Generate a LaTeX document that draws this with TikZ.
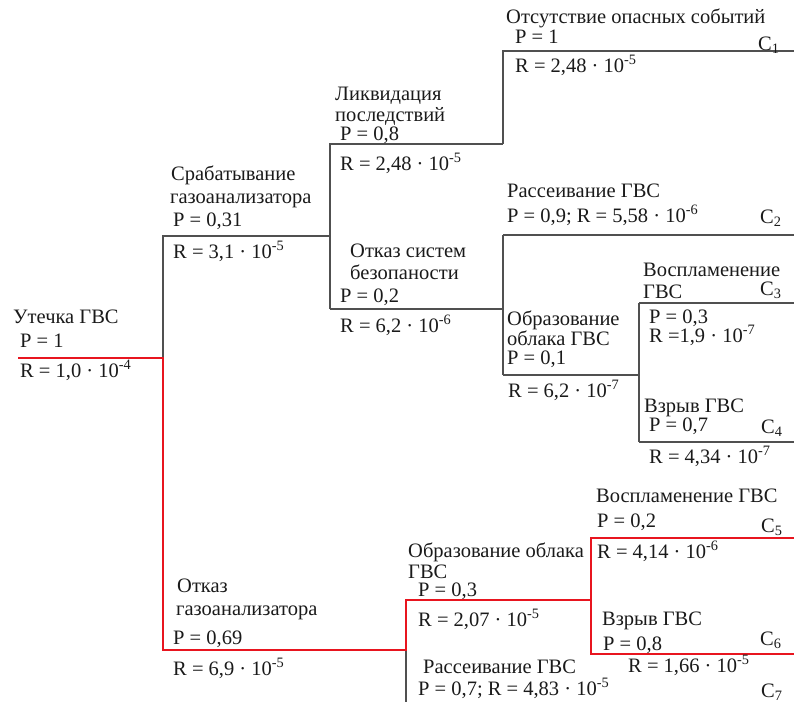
\documentclass[tikz,border=0pt]{standalone}
\usepackage{fontspec}
\setmainfont{Liberation Serif}
\definecolor{redline}{HTML}{E8151F}
\definecolor{greyline}{HTML}{505050}
\definecolor{txt}{HTML}{1A1A1A}
\begin{document}
\begin{tikzpicture}[x=1pt,y=-1pt,
  lbl/.style={anchor=base west,inner sep=0pt,font=\fontsize{20.5}{22}\selectfont,text=txt},
  br/.style={draw=greyline,line width=1.6pt},
  rb/.style={draw=redline,line width=2.2pt}]
\useasboundingbox (0,0) rectangle (794,702);
% junction coordinates
\coordinate (r0) at (18,358);
\coordinate (a) at (163,358);
\coordinate (aT) at (163,236);
\coordinate (aB) at (163,650);
\coordinate (b) at (330,236);
\coordinate (bT) at (330,144);
\coordinate (bB) at (330,309);
\coordinate (c) at (503,144);
\coordinate (cT) at (503,51);
\coordinate (e1) at (794,51);
\coordinate (d) at (503,309);
\coordinate (dT) at (503,235);
\coordinate (dB) at (503,375);
\coordinate (e2) at (794,235);
\coordinate (f) at (639,375);
\coordinate (fT) at (639,303);
\coordinate (fB) at (639,442);
\coordinate (e3) at (794,303);
\coordinate (e4) at (794,442);
\coordinate (g) at (406,650);
\coordinate (gT) at (406,600);
\coordinate (gB) at (406,702);
\coordinate (h) at (591,600);
\coordinate (hT) at (591,538);
\coordinate (hB) at (591,654);
\coordinate (e5) at (794,538);
\coordinate (e6) at (794,654);
% black branches
\draw[br] (a) -- (aT) -- (b);
\draw[br] (bB) -- (bT) -- (c);
\draw[br] (c) -- (cT) -- (e1);
\draw[br] (bB) -- (d);
\draw[br] (dT) -- (dB);
\draw[br] (dT) -- (e2);
\draw[br] (dB) -- (f);
\draw[br] (fT) -- (fB);
\draw[br] (fT) -- (e3);
\draw[br] (fB) -- (e4);
\draw[br] (g) -- (gB);
% red path
\draw[rb] (r0) -- (a) -- (aB) -- (g) -- (gT) -- (h);
\draw[rb] (e5) -- (hT) -- (hB) -- (e6);
% labels
\node[lbl] (t1) at (506,23) {Отсутствие опасных событий};
\node[lbl] (t1p) at (515,43) {P = 1};
\node[lbl] (c1) at (758,50) {C\textsubscript{1}};
\node[lbl] (t1r) at (515,72) {R = 2,48 · 10\textsuperscript{-5}};
\node[lbl] (t2a) at (335,100) {Ликвидация};
\node[lbl] (t2b) at (335,121) {последствий};
\node[lbl] (t2p) at (340,140) {P = 0,8};
\node[lbl] (t2r) at (340,170) {R = 2,48 · 10\textsuperscript{-5}};
\node[lbl] (t3a) at (171,180) {Срабатывание};
\node[lbl] (t3b) at (170,203) {газоанализатора};
\node[lbl] (t3p) at (173,226) {P = 0,31};
\node[lbl] (t3r) at (173,258) {R = 3,1 · 10\textsuperscript{-5}};
\node[lbl] (t4a) at (350,257) {Отказ систем};
\node[lbl] (t4b) at (350,279) {безопаности};
\node[lbl] (t4p) at (340,302) {P = 0,2};
\node[lbl] (t4r) at (340,332) {R = 6,2 · 10\textsuperscript{-6}};
\node[lbl] (t5a) at (507,197) {Рассеивание ГВС};
\node[lbl] (t5p) at (507,222) {P = 0,9; R = 5,58 · 10\textsuperscript{-6}};
\node[lbl] (c2) at (760,223) {C\textsubscript{2}};
\node[lbl] (t6a) at (643,276) {Воспламенение};
\node[lbl] (t6b) at (643,298) {ГВС};
\node[lbl] (c3) at (760,295) {C\textsubscript{3}};
\node[lbl] (t6p) at (649,323) {P = 0,3};
\node[lbl] (t6r) at (649,342) {R =1,9 · 10\textsuperscript{-7}};
\node[lbl] (t7a) at (507,325) {Образование};
\node[lbl] (t7b) at (507,345) {облака ГВС};
\node[lbl] (t7p) at (507,364) {P = 0,1};
\node[lbl] (t7r) at (508,397) {R = 6,2 · 10\textsuperscript{-7}};
\node[lbl] (t8a) at (644,412) {Взрыв ГВС};
\node[lbl] (t8p) at (649,431) {P = 0,7};
\node[lbl] (c4) at (761,433) {C\textsubscript{4}};
\node[lbl] (t8r) at (649,463) {R = 4,34 · 10\textsuperscript{-7}};
\node[lbl] (t0a) at (13,323) {Утечка ГВС};
\node[lbl] (t0p) at (20,347) {P = 1};
\node[lbl] (t0r) at (20,377) {R = 1,0 · 10\textsuperscript{-4}};
\node[lbl] (t9a) at (177,592) {Отказ};
\node[lbl] (t9b) at (176,615) {газоанализатора};
\node[lbl] (t9p) at (173,644) {P = 0,69};
\node[lbl] (t9r) at (173,675) {R = 6,9 · 10\textsuperscript{-5}};
\node[lbl] (t10a) at (408,557) {Образование облака};
\node[lbl] (t10b) at (408,578) {ГВС};
\node[lbl] (t10p) at (418,596) {P = 0,3};
\node[lbl] (t10r) at (418,626) {R = 2,07 · 10\textsuperscript{-5}};
\node[lbl] (t11a) at (596,502) {Воспламенение ГВС};
\node[lbl] (t11p) at (597,527) {P = 0,2};
\node[lbl] (c5) at (761,532) {C\textsubscript{5}};
\node[lbl] (t11r) at (597,558) {R = 4,14 · 10\textsuperscript{-6}};
\node[lbl] (t12a) at (602,625) {Взрыв ГВС};
\node[lbl] (t12p) at (603,650) {P = 0,8};
\node[lbl] (c6) at (760,645) {C\textsubscript{6}};
\node[lbl] (t12r) at (628,672) {R = 1,66 · 10\textsuperscript{-5}};
\node[lbl] (t13a) at (423,673) {Рассеивание ГВС};
\node[lbl] (t13p) at (418,695) {P = 0,7; R = 4,83 · 10\textsuperscript{-5}};
\node[lbl] (c7) at (761,697) {C\textsubscript{7}};
\end{tikzpicture}
\end{document}
